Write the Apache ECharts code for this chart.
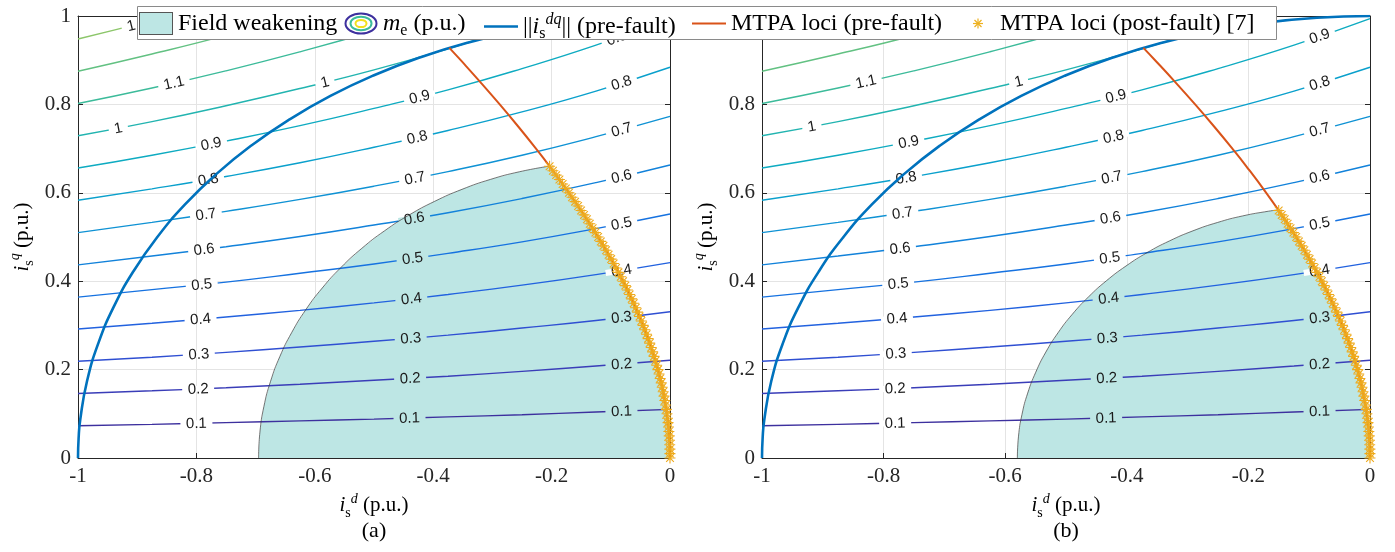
<!DOCTYPE html>
<html><head><meta charset="utf-8">
<script src="https://cdn.jsdelivr.net/npm/echarts@6/dist/echarts.min.js"></script>
<style>html,body{margin:0;padding:0;background:#fff}#c{width:1395px;height:552px}</style>
</head><body><div id="c"></div>
<script>
// ---------- data ----------
const xTickMin = -1, xTickMax = 0, xTickStep = 0.2;
const yTickMin = 0, yTickMax = 1, yTickStep = 0.2;

// torque contour levels (p.u.) and their i_q values at the sample i_d positions
const levels = [0.1, 0.2, 0.3, 0.4, 0.5, 0.6, 0.7, 0.8, 0.9, 1.0, 1.1, 1.2, 1.3];
const idGrid = [-1, -0.875, -0.75, -0.625, -0.5, -0.375, -0.25, -0.125, 0];
const contourIq = [
  [0.073, 0.076, 0.080, 0.084, 0.088, 0.093, 0.098, 0.104, 0.110],
  [0.146, 0.152, 0.159, 0.167, 0.176, 0.185, 0.196, 0.208, 0.221],
  [0.219, 0.228, 0.239, 0.251, 0.264, 0.278, 0.294, 0.311, 0.331],
  [0.292, 0.305, 0.319, 0.334, 0.351, 0.370, 0.391, 0.415, 0.442],
  [0.364, 0.381, 0.398, 0.418, 0.439, 0.463, 0.489, 0.519, 0.552],
  [0.437, 0.457, 0.478, 0.501, 0.527, 0.555, 0.587, 0.623, 0.663],
  [0.510, 0.533, 0.558, 0.585, 0.615, 0.648, 0.685, 0.727, 0.773],
  [0.583, 0.609, 0.637, 0.668, 0.703, 0.741, 0.783, 0.830, 0.884],
  [0.656, 0.685, 0.717, 0.752, 0.791, 0.833, 0.881, 0.934, 0.994],
  [0.729, 0.761, 0.797, 0.836, 0.878, 0.926, 0.979, 1.038, 1.105],
  [0.802, 0.837, 0.876, 0.919, 0.966, 1.018, 1.077, 1.142, 1.215],
  [0.875, 0.914, 0.956, 1.003, 1.054, 1.111, 1.174, 1.246, 1.326],
  [0.948, 0.990, 1.036, 1.086, 1.142, 1.204, 1.272, 1.349, 1.436]
];
const levelColors = ['#3d309e','#3a3db8','#2f4fd2','#2262df','#1672e0','#1282da','#0f92d4','#0aa0cc',
                     '#0eabc1','#22b4b0','#3cbb9a','#62c182','#8cc66a'];

// current limit ||i|| = 1 (pre-fault)
const circleId = [-1, -0.9990, -0.9962, -0.9848, -0.9659, -0.9397, -0.9063, -0.8660, -0.8192, -0.7660, -0.7071,
                  -0.6428, -0.5736, -0.5000, -0.4226, -0.3420, -0.2588, -0.1736, -0.0872, 0];
const circleIq = [0, 0.0436, 0.0872, 0.1736, 0.2588, 0.3420, 0.4226, 0.5000, 0.5736, 0.6428, 0.7071,
                  0.7660, 0.8192, 0.8660, 0.9063, 0.9397, 0.9659, 0.9848, 0.9962, 1];

// MTPA loci (pre-fault), full curve up to the current limit
const mtpaPreIq = [0, 0.05, 0.1, 0.15, 0.2, 0.25, 0.3, 0.35, 0.4, 0.45, 0.5, 0.55, 0.6, 0.66, 0.7, 0.75, 0.8, 0.85, 0.9, 0.928];
const mtpaPreId = [0, -0.0013, -0.0051, -0.0115, -0.0204, -0.0317, -0.0454, -0.0613, -0.0793, -0.0994, -0.1214,
                   -0.1452, -0.1707, -0.2034, -0.2264, -0.2564, -0.2876, -0.3200, -0.3535, -0.3727];

// MTPA loci (post-fault) markers
const mtpaPostIq = [0, 0.01, 0.02, 0.03, 0.04, 0.05, 0.06, 0.07, 0.08, 0.09, 0.10, 0.11, 0.12, 0.13, 0.14, 0.15, 0.16,
                    0.17, 0.18, 0.19, 0.20, 0.21, 0.22, 0.23, 0.24, 0.25, 0.26, 0.27, 0.28, 0.29, 0.30, 0.31, 0.32,
                    0.33, 0.34, 0.35, 0.36, 0.37, 0.38, 0.39, 0.40, 0.41, 0.42, 0.43, 0.44, 0.45, 0.46, 0.47, 0.48,
                    0.49, 0.50, 0.51, 0.52, 0.53, 0.54, 0.55, 0.56, 0.57, 0.58, 0.59, 0.60, 0.61, 0.62, 0.63, 0.64,
                    0.65, 0.66];
const mtpaPostId = [0, -0.0001, -0.0002, -0.0005, -0.0008, -0.0013, -0.0019, -0.0025, -0.0033, -0.0042, -0.0051,
                    -0.0062, -0.0074, -0.0087, -0.0101, -0.0115, -0.0131, -0.0148, -0.0166, -0.0185, -0.0204,
                    -0.0225, -0.0247, -0.0269, -0.0293, -0.0317, -0.0343, -0.0369, -0.0396, -0.0425, -0.0454,
                    -0.0484, -0.0515, -0.0547, -0.0579, -0.0613, -0.0647, -0.0682, -0.0719, -0.0755, -0.0793,
                    -0.0832, -0.0871, -0.0911, -0.0952, -0.0994, -0.1037, -0.1080, -0.1124, -0.1169, -0.1214,
                    -0.1260, -0.1307, -0.1355, -0.1403, -0.1452, -0.1502, -0.1552, -0.1603, -0.1655, -0.1707,
                    -0.1760, -0.1814, -0.1868, -0.1923, -0.1978, -0.2034];
const postEndLeft = 0.66, postEndRight = 0.56;

// field weakening boundary (voltage limit) for (a) and (b)
const fwLeftId = [-0.695, -0.6927, -0.686, -0.6747, -0.6591, -0.6392, -0.6153, -0.5874, -0.5558, -0.5207,
                  -0.4825, -0.4413, -0.3975, -0.3514, -0.3035, -0.254, -0.2033];
const fwLeftIq = [0, 0.0585, 0.1164, 0.1736, 0.2294, 0.2834, 0.3353, 0.3846, 0.4311, 0.4742,
                  0.5137, 0.5493, 0.5807, 0.6078, 0.6302, 0.6477, 0.6604];
const fwRightId = [-0.58, -0.5781, -0.5724, -0.563, -0.5498, -0.5332, -0.513, -0.4896, -0.463, -0.4336,
                   -0.4014, -0.3668, -0.33, -0.2913, -0.251, -0.2094, -0.1668, -0.1496];
const fwRightIq = [0, 0.0494, 0.0985, 0.1468, 0.1939, 0.2396, 0.2835, 0.3252, 0.3645, 0.4009,
                   0.4343, 0.4645, 0.491, 0.5139, 0.5328, 0.5477, 0.5584, 0.5615];

// contour labels: [level, i_d position]
const labelsLeft = [
  [0.1,-0.800],[0.2,-0.797],[0.3,-0.796],[0.4,-0.793],[0.5,-0.791],[0.6,-0.787],[0.7,-0.784],[0.8,-0.780],[0.9,-0.775],
  [1.0,-0.932],[1.1,-0.838],[1.3,-0.900],[1.0,-0.583],
  [0.1,-0.440],[0.2,-0.439],[0.3,-0.438],[0.4,-0.437],[0.5,-0.435],[0.6,-0.432],[0.7,-0.431],[0.8,-0.427],[0.9,-0.423],
  [0.1,-0.082],[0.2,-0.082],[0.3,-0.082],[0.4,-0.082],[0.5,-0.082],[0.6,-0.082],[0.7,-0.082],[0.8,-0.082],[0.9,-0.090]
];
const labelsRight = [
  [0.1,-0.781],[0.2,-0.781],[0.3,-0.780],[0.4,-0.778],[0.5,-0.776],[0.6,-0.773],[0.7,-0.769],[0.8,-0.763],[0.9,-0.759],
  [1.0,-0.918],[1.1,-0.829],[1.0,-0.578],
  [0.1,-0.434],[0.2,-0.433],[0.3,-0.432],[0.4,-0.430],[0.5,-0.428],[0.6,-0.427],[0.7,-0.425],[0.8,-0.422],[0.9,-0.418],
  [0.1,-0.083],[0.2,-0.083],[0.3,-0.083],[0.4,-0.083],[0.5,-0.083],[0.6,-0.083],[0.7,-0.083],[0.8,-0.083],[0.9,-0.083]
];

// ---------- styles ----------
const FW = '#bde6e4', BLUE = '#0072bd', RED = '#d95319', YEL = '#edb120', AX = '#262626';
const SERIF = '"Liberation Serif", "Times New Roman", serif';

const zip = (a, b) => a.map((v, i) => [v, b[i]]);
function interp(x, row) {
  for (let i = 0; i < idGrid.length - 1; i++) {
    if (x >= idGrid[i] && x <= idGrid[i + 1]) {
      const t = (x - idGrid[i]) / (idGrid[i + 1] - idGrid[i]);
      return row[i] + t * (row[i + 1] - row[i]);
    }
  }
  return row[row.length - 1];
}
function inPoly(x, y, poly) {
  let c = false;
  for (let i = 0, j = poly.length - 1; i < poly.length; j = i++) {
    const [xi, yi] = poly[i], [xj, yj] = poly[j];
    if (((yi > y) !== (yj > y)) && (x < (xj - xi) * (y - yi) / (yj - yi) + xi)) c = !c;
  }
  return c;
}
const postPts = zip(mtpaPostId, mtpaPostIq);
const postLeft = postPts.filter(p => p[1] <= postEndLeft + 1e-9);
const postRight = postPts.filter(p => p[1] <= postEndRight + 1e-9);
const polyLeft = zip(fwLeftId, fwLeftIq).concat(postLeft.slice().reverse());
const polyRight = zip(fwRightId, fwRightIq).concat(postRight.slice().reverse());

const series = [];
function addPlot(g, poly, fwId, fwIq, post, labels) {
  const xi = g * 2, yi = g * 2;
  series.push({
    type: 'custom', name: 'fw', xAxisIndex: xi, yAxisIndex: yi, z: 1, silent: true,
    data: poly,
    renderItem(params, api) {
      if (params.dataIndex !== 0) return null;
      return { type: 'polygon', shape: { points: poly.map(p => api.coord(p)) }, style: { fill: FW } };
    }
  });
  levels.forEach((lv, k) => {
    series.push({
      type: 'line', name: 'me', xAxisIndex: xi, yAxisIndex: yi, z: 2, silent: true,
      data: zip(idGrid, contourIq[k]), smooth: true, symbol: 'none', clip: true,
      lineStyle: { color: levelColors[k], width: 1.4 }, itemStyle: { color: levelColors[k] }
    });
  });
  const items = labels.map(([lv, x]) => {
    const row = contourIq[levels.indexOf(lv)];
    const y = interp(x, row);
    return { lv, x, y, yl: interp(x - 0.02, row), yr: interp(x + 0.02, row), inside: inPoly(x, y, poly) };
  });
  series.push({
    type: 'custom', xAxisIndex: xi, yAxisIndex: yi, z: 3, silent: true,
    data: items.map(d => [d.x, d.y]),
    renderItem(params, api) {
      const d = items[params.dataIndex];
      const p = api.coord([d.x, d.y]);
      const a = api.coord([d.x - 0.02, d.yl]), b = api.coord([d.x + 0.02, d.yr]);
      const rot = Math.atan2(a[1] - b[1], b[0] - a[0]);
      const txt = String(d.lv);
      const nd = txt.replace('.', '').length, ndot = txt.includes('.') ? 1 : 0;
      const w = nd * 8.4 + ndot * 4.2 + 11;
      return {
        type: 'group', x: p[0], y: p[1], rotation: rot,
        children: [
          { type: 'rect', shape: { x: -w / 2, y: -3, width: w, height: 6 }, style: { fill: d.inside ? FW : '#ffffff' } },
          { type: 'text', style: { text: txt, x: 0, y: 0.5, align: 'center', verticalAlign: 'middle',
              fill: '#1a1a1a', font: '15px "Liberation Sans", Arial, sans-serif' } }
        ]
      };
    }
  });
  series.push({
    type: 'line', name: 'fwb', xAxisIndex: xi, yAxisIndex: yi, z: 4, silent: true,
    data: zip(fwId, fwIq), smooth: true, symbol: 'none', lineStyle: { color: '#3a3a3a', width: 0.7 }
  });
  series.push({
    type: 'line', name: 'norm', xAxisIndex: xi, yAxisIndex: yi, z: 5, silent: true,
    data: zip(circleId, circleIq), smooth: true, symbol: 'none', lineStyle: { color: BLUE, width: 2.6 }, itemStyle: { color: BLUE }
  });
  series.push({
    type: 'line', name: 'mtpaPre', xAxisIndex: xi, yAxisIndex: yi, z: 5, silent: true,
    data: zip(mtpaPreId, mtpaPreIq), smooth: true, symbol: 'none', lineStyle: { color: RED, width: 2 }, itemStyle: { color: RED }
  });
  series.push({
    type: 'scatter', name: 'mtpaPost', xAxisIndex: xi, yAxisIndex: yi, z: 6, silent: true,
    data: post, symbol: 'path://M5 0L5 10M0 5L10 5M1.5 1.5L8.5 8.5M1.5 8.5L8.5 1.5', symbolSize: 11,
    itemStyle: { color: 'none', borderColor: '#eeaa1c', borderWidth: 1.1, opacity: 1 }
  });
}
addPlot(0, polyLeft, fwLeftId, fwLeftIq, postLeft, labelsLeft);
addPlot(1, polyRight, fwRightId, fwRightIq, postRight, labelsRight);

const richAx = {
  it: { fontFamily: SERIF, fontStyle: 'italic', fontSize: 21, lineHeight: 28, color: '#000' },
  n: { fontFamily: SERIF, fontSize: 21, lineHeight: 28, color: '#000' },
  sb: { fontFamily: SERIF, fontSize: 14, lineHeight: 17, verticalAlign: 'bottom', color: '#000' },
  sp: { fontFamily: SERIF, fontStyle: 'italic', fontSize: 14, lineHeight: 17, verticalAlign: 'top', color: '#000' }
};
function xAx(g, pos, main) {
  return {
    type: 'value', gridIndex: g, position: pos, min: xTickMin, max: xTickMax, interval: xTickStep,
    axisLine: { show: true, onZero: false, lineStyle: { color: AX, width: 1 } },
    axisTick: { show: true, inside: true, length: 5, lineStyle: { color: AX } },
    axisLabel: { show: main, color: AX, fontFamily: SERIF, fontSize: 21, margin: 8 },
    splitLine: { show: main, lineStyle: { color: '#e4e4e4', width: 1 } },
    name: main ? '{it|i}{sb|s}{sp|d}{n| (p.u.)}' : '', nameLocation: 'middle', nameGap: 26,
    nameTextStyle: { rich: richAx }
  };
}
function yAx(g, pos, main) {
  return {
    type: 'value', gridIndex: g, position: pos, min: yTickMin, max: yTickMax, interval: yTickStep,
    axisLine: { show: true, onZero: false, lineStyle: { color: AX, width: 1 } },
    axisTick: { show: true, inside: true, length: 5, lineStyle: { color: AX } },
    axisLabel: { show: main, color: AX, fontFamily: SERIF, fontSize: 21, margin: 7 },
    splitLine: { show: main, lineStyle: { color: '#e4e4e4', width: 1 } },
    name: main ? '{it|i}{sb|s}{sp|q}{n| (p.u.)}' : '', nameLocation: 'middle', nameGap: 42, nameRotate: 90,
    nameTextStyle: { rich: richAx }
  };
}

const svg = s => 'image://data:image/svg+xml;charset=utf-8,' + encodeURIComponent(
  "<svg xmlns='http://www.w3.org/2000/svg' width='34' height='23' viewBox='0 0 34 23'>" + s + "</svg>");
const legendDefs = [
  { name: 'fw', left: 139, icon: svg("<rect x='0.5' y='0.5' width='33' height='22' fill='" + FW + "' stroke='#555' stroke-width='1'/>") },
  { name: 'me', left: 344, icon: svg("<ellipse cx='17' cy='11.5' rx='15.5' ry='10' fill='none' stroke='#3d309e' stroke-width='2'/>" +
      "<ellipse cx='17' cy='11.5' rx='10.5' ry='6.8' fill='none' stroke='#3cbb9a' stroke-width='2'/>" +
      "<ellipse cx='17' cy='11.5' rx='5.5' ry='3.6' fill='none' stroke='#f2e01c' stroke-width='2'/>") },
  { name: 'norm', left: 484, icon: svg("<line x1='0' y1='11.5' x2='34' y2='11.5' stroke='" + BLUE + "' stroke-width='2.6'/>") },
  { name: 'mtpaPre', left: 692, icon: svg("<line x1='0' y1='11.5' x2='34' y2='11.5' stroke='" + RED + "' stroke-width='2.2'/>") },
  { name: 'mtpaPost', left: 961, icon: svg("<g stroke='" + YEL + "' stroke-width='1.2'><line x1='17' y1='6.5' x2='17' y2='16.5'/>" +
      "<line x1='12' y1='11.5' x2='22' y2='11.5'/><line x1='13.5' y1='8' x2='20.5' y2='15'/><line x1='13.5' y1='15' x2='20.5' y2='8'/></g>") }
];
const legendText = {
  fw: '{n|Field weakening}',
  me: '{it|m}{sb|e}{n| (p.u.)}',
  norm: '{n|||}{it|i}{sb|s}{sp|dq}{n||| (pre-fault)}',
  mtpaPre: '{n|MTPA loci (pre-fault)}',
  mtpaPost: '{n|MTPA loci (post-fault) [7]}'
};
const richLg = {
  it: { fontFamily: SERIF, fontStyle: 'italic', fontSize: 24, lineHeight: 30, color: '#000' },
  n: { fontFamily: SERIF, fontSize: 24, lineHeight: 30, color: '#000' },
  sb: { fontFamily: SERIF, fontSize: 16, lineHeight: 18, verticalAlign: 'bottom', color: '#000' },
  sp: { fontFamily: SERIF, fontStyle: 'italic', fontSize: 16, lineHeight: 18, verticalAlign: 'top', color: '#000' }
};

const option = {
  animation: false,
  backgroundColor: '#ffffff',
  grid: [
    { left: 78, top: 16, width: 592, height: 442, outerBoundsMode: 'none' },
    { left: 762, top: 16, width: 608, height: 442, outerBoundsMode: 'none' }
  ],
  xAxis: [xAx(0, 'bottom', true), xAx(0, 'top', false), xAx(1, 'bottom', true), xAx(1, 'top', false)],
  yAxis: [yAx(0, 'left', true), yAx(0, 'right', false), yAx(1, 'left', true), yAx(1, 'right', false)],
  legend: legendDefs.map(d => ({
    data: [{ name: d.name, icon: d.icon }], left: d.left, top: 11.5, orient: 'horizontal',
    itemWidth: 34, itemHeight: 23, itemGap: 0, padding: 0, selectedMode: false, z: 11,
    formatter: name => legendText[name], textStyle: { rich: richLg, fontFamily: SERIF, fontSize: 24, color: '#000' }
  })),
  graphic: [
    { type: 'rect', z: 10, shape: { x: 137.5, y: 6.5, width: 1139, height: 33 },
      style: { fill: '#ffffff', stroke: '#8a8a8a', lineWidth: 1 } },
    { type: 'text', z: 10, x: 374, y: 531, style: { text: '(a)', align: 'center', verticalAlign: 'middle',
        textAlign: 'center', textVerticalAlign: 'middle', font: '22px ' + SERIF, fill: '#000' } },
    { type: 'text', z: 10, x: 1066, y: 531, style: { text: '(b)', align: 'center', verticalAlign: 'middle',
        textAlign: 'center', textVerticalAlign: 'middle', font: '22px ' + SERIF, fill: '#000' } }
  ],
  series
};
const chart = echarts.init(document.getElementById('c'));
chart.setOption(option);
</script></body></html>
